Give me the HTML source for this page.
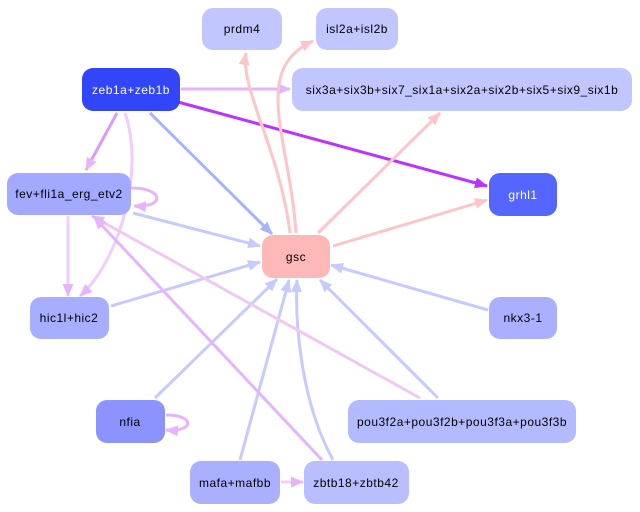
<!DOCTYPE html>
<html><head><style>
body{margin:0;background:#fff;}
svg{display:block;font-family:"Liberation Sans",Arial,sans-serif;}
</style></head><body>
<svg width="640" height="512" viewBox="0 0 640 512" xmlns="http://www.w3.org/2000/svg">
<defs>
<marker id="aB" markerWidth="13" markerHeight="11" refX="12" refY="5.5" orient="auto" markerUnits="userSpaceOnUse"><path d="M0,0 L13,5.5 L0,11z" fill="#c6caff"/></marker>
<marker id="aP" markerWidth="13" markerHeight="11" refX="12" refY="5.5" orient="auto" markerUnits="userSpaceOnUse"><path d="M0,0 L13,5.5 L0,11z" fill="#ffc4c8"/></marker>
<marker id="aV" markerWidth="13" markerHeight="11" refX="12" refY="5.5" orient="auto" markerUnits="userSpaceOnUse"><path d="M0,0 L13,5.5 L0,11z" fill="#e6b4ff"/></marker>
<marker id="aS" markerWidth="13" markerHeight="11" refX="12" refY="5.5" orient="auto" markerUnits="userSpaceOnUse"><path d="M0,0 L13,5.5 L0,11z" fill="#bb33ff"/></marker>
<marker id="aM" markerWidth="13" markerHeight="11" refX="12" refY="5.5" orient="auto" markerUnits="userSpaceOnUse"><path d="M0,0 L13,5.5 L0,11z" fill="#aab2ff"/></marker>
</defs>
<g fill="none" stroke-width="3">
<path d="M181,89 L290,89" stroke="#e6b4ff" marker-end="url(#aV)"/>
<path d="M178,102 L487,186" stroke="#bb33ff" marker-end="url(#aS)"/>
<path d="M117,113 L86,170" stroke="#dd99ff" marker-end="url(#aV)"/>
<path d="M125,113 C145,170 120,260 80,296" stroke="#f0ccff" marker-end="url(#aV)"/>
<path d="M150,113 L272,234" stroke="#aab2ff" marker-end="url(#aM)"/>
<path d="M290,233 C280,150 240,90 246,53" stroke="#ffc4c8" marker-end="url(#aP)"/>
<path d="M296,233 C290,140 250,70 313,41" stroke="#ffc4c8" marker-end="url(#aP)"/>
<path d="M318,233 L440,113" stroke="#ffc4c8" marker-end="url(#aP)"/>
<path d="M333,246 L487,200" stroke="#ffc4c8" marker-end="url(#aP)"/>
<path d="M133,213 L260,246" stroke="#c6caff" marker-end="url(#aB)"/>
<path d="M111,306 L260,262" stroke="#c6caff" marker-end="url(#aB)"/>
<path d="M488,310 L331,265" stroke="#c6caff" marker-end="url(#aB)"/>
<path d="M155,398 L277,279" stroke="#c6caff" marker-end="url(#aB)"/>
<path d="M240,460 L289,280" stroke="#c6caff" marker-end="url(#aB)"/>
<path d="M333,460 C300,400 295,320 297,280" stroke="#c6caff" marker-end="url(#aB)"/>
<path d="M438,398 L320,280" stroke="#c6caff" marker-end="url(#aB)"/>
<path d="M420,398 L92,216" stroke="#f0c8f4" marker-end="url(#aV)"/>
<path d="M322,460 L94,217" stroke="#e6b4ff" marker-end="url(#aV)"/>
<path d="M68,216 L68,296" stroke="#f0ccff" marker-end="url(#aV)"/>
<path d="M131,188 C165,188 165,208 134,206" stroke="#e6b4ff" marker-end="url(#aV)"/>
<path d="M166,415 C195,415 195,432 166,430" stroke="#e6b4ff" marker-end="url(#aV)"/>
<path d="M281,482 L303,482" stroke="#f4ccff" marker-end="url(#aV)"/>
</g>
<g font-size="12" letter-spacing="0.5" text-anchor="middle">
<rect x="202" y="8" width="80" height="42" rx="11" fill="#c2c6ff"/><text x="242" y="33">prdm4</text>
<rect x="316" y="8" width="82" height="42" rx="11" fill="#c2c6ff"/><text x="357" y="33">isl2a+isl2b</text>
<rect x="82" y="68" width="98" height="43" rx="11" fill="#3345f8"/><text x="131" y="94" fill="#fff">zeb1a+zeb1b</text>
<rect x="292" y="68" width="340" height="43" rx="11" fill="#c2c6ff"/><text x="462" y="94">six3a+six3b+six7_six1a+six2a+six2b+six5+six9_six1b</text>
<rect x="7" y="173" width="124" height="42" rx="11" fill="#a2a9ff"/><text x="69" y="198">fev+fli1a_erg_etv2</text>
<rect x="489" y="173" width="68" height="43" rx="11" fill="#5566ff"/><text x="523" y="199" fill="#fff">grhl1</text>
<rect x="262" y="235" width="68" height="43" rx="11" fill="#ffb8b8"/><text x="296" y="261">gsc</text>
<rect x="30" y="297" width="79" height="42" rx="11" fill="#a8aeff"/><text x="69" y="322">hic1l+hic2</text>
<rect x="489" y="297" width="68" height="42" rx="11" fill="#aab0ff"/><text x="523" y="322">nkx3-1</text>
<rect x="96" y="400" width="69" height="43" rx="11" fill="#8a93ff"/><text x="130" y="426">nfia</text>
<rect x="348" y="400" width="228" height="43" rx="11" fill="#b4baff"/><text x="462" y="426">pou3f2a+pou3f2b+pou3f3a+pou3f3b</text>
<rect x="190" y="461" width="90" height="43" rx="11" fill="#aab0ff"/><text x="235" y="487">mafa+mafbb</text>
<rect x="304" y="461" width="105" height="43" rx="11" fill="#b8beff"/><text x="356" y="487">zbtb18+zbtb42</text>
</g>
</svg>
</body></html>
